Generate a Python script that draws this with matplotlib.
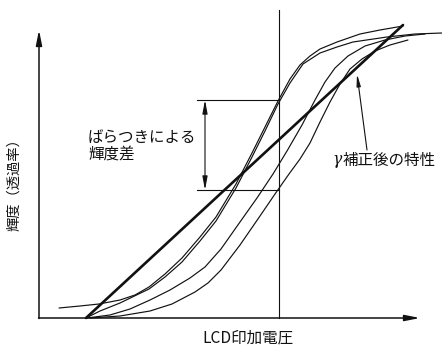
import matplotlib
matplotlib.use("Agg")
import matplotlib.pyplot as plt

plt.rcParams['font.family'] = ['Noto Sans CJK JP', 'DejaVu Sans']

# Applied voltage (V) vs. luminance (L) curves for several LCD panels
curve_a_v = [0.20, 0.41, 0.60, 0.81, 0.96, 1.10, 1.26, 1.43, 1.61, 1.77, 1.97, 2.13,
             2.26, 2.39, 2.51, 2.61, 2.71, 2.81, 2.98, 3.21, 3.41, 3.64]
curve_a_l = [0.10, 0.12, 0.14, 0.18, 0.23, 0.31, 0.44, 0.60, 0.81, 1.01, 1.34, 1.65,
             1.91, 2.17, 2.39, 2.53, 2.62, 2.69, 2.76, 2.84, 2.88, 2.92]

curve_b_v = [0.47, 0.61, 0.81, 1.10, 1.26, 1.43, 1.61, 1.77, 1.97, 2.13, 2.26, 2.39,
             2.51, 2.64, 2.81, 2.98, 3.14, 3.48, 3.76, 4.03]
curve_b_l = [0.00, 0.07, 0.15, 0.29, 0.41, 0.56, 0.77, 0.97, 1.30, 1.61, 1.87, 2.14,
             2.35, 2.54, 2.65, 2.71, 2.76, 2.81, 2.84, 2.85]

curve_c_v = [0.48, 0.71, 0.91, 1.11, 1.31, 1.51, 1.66, 1.82, 2.01, 2.18, 2.34, 2.48,
             2.63, 2.76, 2.86, 2.96, 3.09, 3.26, 3.46, 3.66, 3.86]
curve_c_l = [0.00, 0.03, 0.09, 0.18, 0.28, 0.40, 0.51, 0.69, 0.96, 1.20, 1.44, 1.67,
             1.93, 2.18, 2.36, 2.50, 2.62, 2.72, 2.78, 2.82, 2.84]

curve_d_v = [0.51, 0.81, 1.11, 1.33, 1.56, 1.69, 1.82, 2.01, 2.21, 2.36, 2.50, 2.61,
             2.71, 2.81, 2.91, 3.01, 3.11, 3.23, 3.36, 3.51, 3.69]
curve_d_l = [0.00, 0.02, 0.07, 0.14, 0.26, 0.35, 0.48, 0.73, 1.02, 1.24, 1.44, 1.59,
             1.75, 1.96, 2.16, 2.34, 2.49, 2.59, 2.67, 2.73, 2.78]

# gamma-corrected characteristic (straight line)
gamma_v = [0.47, 3.64]
gamma_l = [0.00, 2.93]

# reference voltage and the luminance spread it produces
ref_voltage = 2.40
spread_high = 2.18
spread_low = 1.28

fig = plt.figure(figsize=(4.42, 3.47), dpi=100)
ax = fig.add_axes([0, 0, 1, 1])
ax.set_xlim(-0.39, 4.03)
ax.set_ylim(-0.29, 3.18)
ax.axis('off')

ink = '#111111'

# axes with arrowheads
ax.annotate('', xy=(0, 2.88), xytext=(0, -0.005),
            arrowprops=dict(arrowstyle='-|>,head_length=0.9,head_width=0.18',
                            color=ink, lw=1.1, shrinkA=0, shrinkB=0))
ax.annotate('', xy=(3.81, 0), xytext=(-0.005, 0),
            arrowprops=dict(arrowstyle='-|>,head_length=0.9,head_width=0.18',
                            color=ink, lw=1.1, shrinkA=0, shrinkB=0))

# panel curves
for xs, ys in [(curve_a_v, curve_a_l), (curve_b_v, curve_b_l),
               (curve_c_v, curve_c_l), (curve_d_v, curve_d_l)]:
    ax.plot(xs, ys, color=ink, lw=0.85, solid_capstyle='round', solid_joinstyle='round')

ax.plot(gamma_v, gamma_l, color=ink, lw=1.9, solid_capstyle='round')

# reference voltage and spread markers
ax.plot([ref_voltage, ref_voltage], [0, 3.08], color=ink, lw=0.8)
ax.plot([1.58, ref_voltage], [spread_high, spread_high], color=ink, lw=0.8)
ax.plot([1.58, ref_voltage], [spread_low, spread_low], color=ink, lw=0.8)
ax.annotate('', xy=(1.66, spread_high), xytext=(1.66, spread_low),
            arrowprops=dict(arrowstyle='<|-|>,head_length=0.8,head_width=0.15',
                            color=ink, lw=0.8, shrinkA=0, shrinkB=0))

# labels
fs = 11.2
ax.text(0.49, 1.81, 'ばらつきによる', fontsize=fs, color=ink, ha='left', va='center')
ax.text(0.49, 1.64, '輝度差', fontsize=fs, color=ink, ha='left', va='center')

ax.text(2.93, 1.585, 'γ', fontsize=fs, color=ink, ha='left', va='center',
        family='DejaVu Serif', style='italic')
ax.text(3.04, 1.58, '補正後の特性', fontsize=fs, color=ink, ha='left', va='center')
ax.annotate('', xy=(3.18, 2.44), xytext=(3.28, 1.68),
            arrowprops=dict(arrowstyle='-|>,head_length=0.7,head_width=0.12',
                            color=ink, lw=0.8, shrinkA=0, shrinkB=0))

ax.text(2.09, -0.20, 'LCD印加電圧', fontsize=fs, color=ink, ha='center', va='center')
ax.text(-0.25, 1.37, '輝度（透過率）', fontsize=10.3, color=ink, ha='center', va='center',
        rotation=90)

fig.savefig('out.png', dpi=100)
